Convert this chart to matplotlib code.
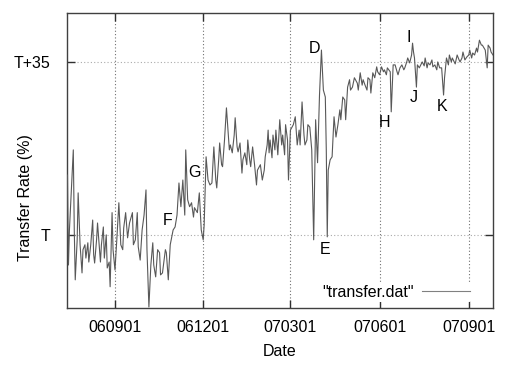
import numpy as np
import matplotlib
matplotlib.use("Agg")
import matplotlib.pyplot as plt
import matplotlib.dates as mdates

plt.rcParams['font.family'] = ['Liberation Sans', 'DejaVu Sans']

base_date = np.datetime64('2006-09-01')

# days relative to 2006-09-01
days = [-49, -48, -47, -45, -43, -42, -41, -39, -38, -36,
        -34, -33, -31, -30, -28, -27, -25, -23, -22, -21,
        -19, -18, -15, -14, -12, -11, -9, -8, -6, -5,
        -3, -2, 0, 2, 4, 6, 8, 9, 11, 13,
        15, 18, 19, 21, 23, 24, 26, 28, 30, 32,
        33, 35, 37, 39, 40, 42, 44, 46, 47, 49,
        52, 53, 55, 57, 60, 62, 64, 66, 68, 70,
        72, 73, 75, 77, 79, 81, 82, 85, 87, 89,
        91, 92, 94, 96, 98, 100, 102, 104, 105, 107,
        108, 110, 111, 113, 115, 118, 119, 121, 123, 124,
        126, 127, 129, 131, 132, 134, 136, 137, 139, 140,
        142, 144, 146, 147, 150, 152, 154, 155, 157, 158,
        159, 160, 162, 163, 165, 166, 168, 170, 172, 173,
        175, 176, 178, 179, 181, 184, 186, 188, 190, 191,
        193, 195, 196, 198, 199, 201, 203, 205, 207, 209,
        211, 213, 215, 217, 218, 219, 220, 222, 224, 226,
        228, 230, 232, 233, 235, 237, 238, 240, 242, 243,
        245, 247, 250, 251, 253, 255, 256, 258, 260, 261,
        263, 264, 266, 268, 270, 271, 273, 275, 277, 278,
        280, 281, 284, 285, 287, 289, 291, 292, 294, 296,
        298, 299, 301, 302, 304, 306, 307, 308, 309, 311,
        312, 314, 317, 319, 320, 322, 323, 325, 327, 328,
        330, 332, 333, 335, 337, 339, 340, 342, 344, 345,
        347, 348, 351, 353, 355, 356, 358, 359, 361, 363,
        365, 366, 368, 369, 371, 373, 374, 376, 378, 379,
        382, 384, 385, 387, 388, 390]

# transfer rate relative to T (%)
rate = [12.1, -6.1, 1.0, 9.1, 17.2, 1.0, -9.1, -1.0, 8.5, -2.0,
        -7.7, -3.0, -2.0, -4.7, -1.6, -5.5, -2.0, 3.0, -4.0, -5.7,
        -1.0, 2.4, -5.5, -2.0, 1.6, -4.7, 0.0, -6.7, -5.5, -10.5,
        4.5, -3.0, -7.1, -0.6, 6.5, -2.0, -3.0, 1.4, 4.5, -0.6,
        2.4, 4.5, -2.0, -1.0, 4.5, -2.4, -5.1, 1.0, 4.0, 9.1,
        -3.0, -14.6, -6.1, -1.6, -6.1, -8.5, -3.0, -3.6, -8.1, -7.7,
        -3.0, -3.6, -9.1, -2.0, 1.0, 1.6, 4.0, 10.5, 5.7, 11.1,
        4.0, 17.2, 7.1, 5.7, 6.5, 3.6, 5.5, 4.5, 8.5, 1.0,
        -1.0, 2.0, 15.8, 11.1, 10.1, 10.5, 17.8, 11.1, 9.5, 15.2,
        18.6, 14.2, 13.8, 19.2, 25.7, 17.2, 18.2, 16.6, 20.2, 23.7,
        17.8, 16.8, 18.6, 12.5, 15.2, 16.6, 14.2, 19.2, 15.2, 13.8,
        17.8, 14.2, 10.1, 13.1, 14.2, 11.1, 13.1, 15.8, 18.2, 21.2,
        16.6, 19.2, 15.6, 20.2, 17.2, 21.2, 16.2, 23.3, 18.2, 20.2,
        16.2, 22.3, 19.2, 11.1, 21.2, 22.3, 23.9, 18.2, 21.2, 18.2,
        26.9, 20.2, 18.2, 19.2, 22.3, 21.8, 17.2, -1.0, 23.3, 14.6,
        28.3, 37.4, 29.3, 27.9, 17.2, -0.4, 13.1, 15.2, 15.8, 23.9,
        19.8, 22.3, 25.3, 23.3, 27.9, 27.3, 23.3, 29.9, 31.4, 29.3,
        29.9, 31.8, 30.7, 29.3, 32.8, 30.3, 31.4, 30.3, 29.3, 31.8,
        31.4, 28.7, 32.8, 31.8, 34.0, 33.0, 32.4, 34.0, 33.0, 33.4,
        32.4, 33.8, 33.0, 24.9, 34.4, 34.4, 33.0, 32.4, 33.8, 34.4,
        33.4, 33.8, 35.0, 35.8, 34.8, 36.4, 38.8, 37.0, 35.8, 29.9,
        34.4, 33.8, 35.0, 34.2, 35.8, 33.8, 34.8, 34.4, 35.4, 34.0,
        34.4, 33.4, 35.0, 33.8, 33.8, 28.3, 31.8, 35.8, 34.4, 36.4,
        35.0, 35.8, 34.6, 36.4, 35.4, 35.0, 35.8, 37.0, 35.4, 36.0,
        36.4, 37.4, 35.8, 36.8, 36.4, 37.8, 37.0, 39.4, 38.4, 38.4,
        37.4, 33.8, 38.4, 37.8, 37.0, 36.4]

# annotations
ann_labels = ['D', 'E', 'F', 'G', 'H', 'I', 'J', 'K']
ann_days = [206, 217, 54, 82, 278, 303, 308, 337]
ann_vals = [37.8, -3.0, 3.0, 12.7, 22.7, 39.9, 27.7, 25.9]

xtick_dates = ['2006-09-01', '2006-12-01', '2007-03-01', '2007-06-01', '2007-09-01']
xtick_labels = ['060901', '061201', '070301', '070601', '070901']
ytick_vals = [0, 35]
ytick_labels = ['T', 'T+35']

fs = 11.5
fig = plt.figure(figsize=(5.12, 3.71), dpi=100)
ax = fig.add_axes([67/512, 1-308/371, (493-67)/512, (308-13)/371])

dates = base_date + np.array(days).astype('timedelta64[D]')
ax.plot(dates, rate, color='#585858', lw=0.8, label='"transfer.dat"', zorder=3)

for lab, d, v in zip(ann_labels, ann_days, ann_vals):
    ax.text(base_date + np.timedelta64(d, 'D'), v, lab, ha='center', va='center',
            fontsize=fs, color='black', zorder=4)

ax.set_xlim(base_date - np.timedelta64(49, 'D') - np.timedelta64(12, 'h'),
            base_date + np.timedelta64(390, 'D'))
ax.set_ylim(-14.8, 44.9)

xt = [np.datetime64(d) for d in xtick_dates]
ax.set_xticks(mdates.date2num(xt))
ax.set_xticklabels(xtick_labels)
ax.set_yticks(ytick_vals)
ax.set_yticklabels(ytick_labels)

ax.tick_params(axis='both', direction='in', length=5.8, width=1.0, color='#303030',
               top=True, right=True, labelsize=fs)
ax.tick_params(axis='x', pad=9)
ax.tick_params(axis='y', pad=12)

ax.xaxis.grid(True, color='#707070', linestyle=(0, (1, 2)), lw=0.8)
ax.yaxis.grid(True, color='#aaaaaa', linestyle=(0, (1, 2)), lw=0.8)
ax.set_axisbelow(True)

for s in ax.spines.values():
    s.set_color('#404040')
    s.set_linewidth(1.0)

ax.set_xlabel('Date', fontsize=fs, labelpad=6)
ax.set_ylabel('Transfer Rate (%)', fontsize=fs, va='center', ha='center')
ax.yaxis.set_label_coords(-0.097, 0.375)

leg = ax.legend(loc='lower right', bbox_to_anchor=(0.951, 0.02), markerfirst=False,
                frameon=True, fontsize=fs, handlelength=3.0, handletextpad=0.5,
                borderpad=0.15, borderaxespad=0)
leg.get_frame().set_facecolor('white')
leg.get_frame().set_edgecolor('none')
leg.get_frame().set_alpha(1.0)
leg.get_lines()[0].set_color('#808080')

fig.savefig('out.png', dpi=100)
